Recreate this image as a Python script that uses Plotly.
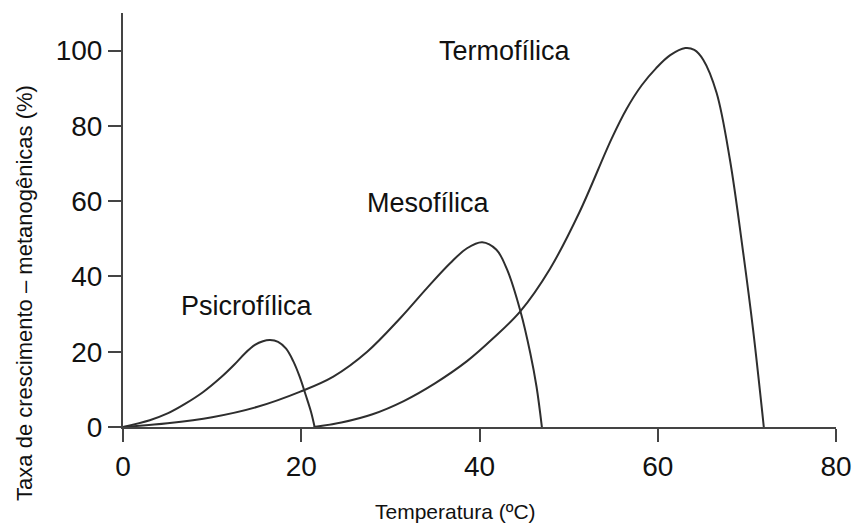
import plotly.graph_objects as go

# Temperature (°C) and growth rate (%)
psicro_t = [0, 3.0, 5.0, 7.0, 9.0, 11.0, 12.5, 13.7, 14.8, 15.7, 16.5, 17.4, 18.3, 19.1, 19.8, 20.5, 21.1, 21.5]
psicro_y = [0, 1.8, 3.6, 6.2, 9.3, 13.2, 16.6, 19.6, 21.8, 22.8, 23.1, 22.6, 20.8, 17.5, 13.5, 8.5, 4.0, 0]

meso_t = [0, 5.0, 10.0, 15.0, 19.9, 23.6, 27.4, 31.1, 34.1, 36.7, 38.6, 40.3, 41.9, 43.1, 44.6, 45.7, 46.4, 47.0]
meso_y = [0, 1.0, 2.6, 5.3, 9.4, 13.4, 20.0, 28.9, 36.9, 43.5, 47.5, 49.1, 47.1, 41.8, 30.7, 19.6, 10.7, 0]

termo_t = [21.4, 24.5, 28.0, 31.5, 35.0, 38.6, 41.5, 44.6, 47.9, 51.2, 54.8, 56.5, 58.2, 59.8, 61.4, 63.1, 64.1, 65.1, 66.6, 68.1, 69.6, 70.7, 71.9]
termo_y = [0, 1.2, 3.4, 6.9, 11.6, 17.5, 23.5, 30.8, 42.0, 57.0, 76.5, 84.5, 90.8, 95.3, 98.8, 100.7, 100.2, 97.6, 88.8, 71.0, 46.1, 25.8, 0]

labels = ["Psicrofílica", "Mesofílica", "Termofílica"]
label_t = [13.9, 34.3, 42.9]
label_y = [32.2, 59.6, 99.8]

x_ticks = [0, 20, 40, 60, 80]
y_ticks = [0, 20, 40, 60, 80, 100]

line_color = "#2e2e2e"
fig = go.Figure()
for t, y in [(psicro_t, psicro_y), (meso_t, meso_y), (termo_t, termo_y)]:
    fig.add_trace(go.Scatter(x=t, y=y, mode="lines",
                             line=dict(color=line_color, width=2, shape="spline", smoothing=1.0),
                             showlegend=False, hoverinfo="skip"))

for txt, tx, ty in zip(labels, label_t, label_y):
    fig.add_annotation(x=tx, y=ty, xref="x", yref="y", text=txt, showarrow=False,
                       font=dict(family="Liberation Sans, Arial", size=27, color="#111111"),
                       xanchor="center", yanchor="middle")

fig.add_annotation(x=37.3, y=-0.205, xref="x", yref="paper", text="Temperatura (ºC)",
                   showarrow=False, xanchor="center", yanchor="middle",
                   font=dict(family="Liberation Sans, Arial", size=21, color="#111111"))
fig.add_annotation(x=-0.139, y=35.6, xref="paper", yref="y",
                   text="Taxa de crescimento – metanogênicas (%)",
                   showarrow=False, textangle=-90, xanchor="center", yanchor="middle",
                   font=dict(family="Liberation Sans, Arial", size=22, color="#111111"))

axis_common = dict(showgrid=False, zeroline=False, showline=True, linecolor="#444444", linewidth=2,
                   ticks="outside", ticklen=13, tickwidth=2, tickcolor="#444444", automargin=False,
                   tickfont=dict(family="Liberation Sans, Arial", size=28, color="#111111"))
fig.update_xaxes(range=[0, 80], tickvals=x_ticks, **axis_common)
fig.update_yaxes(range=[0, 110], tickvals=y_ticks, **axis_common)

fig.update_layout(width=853, height=525, margin=dict(l=123, r=17, t=13, b=98),
                  plot_bgcolor="white", paper_bgcolor="white")

fig.write_html("out.html")
